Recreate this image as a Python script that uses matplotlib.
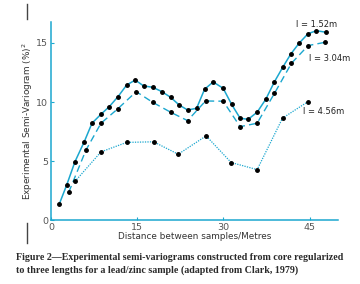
import matplotlib
matplotlib.use('Agg')
import matplotlib.pyplot as plt
from matplotlib.lines import Line2D

# Semi-variogram values
x_152 = [1.44, 2.73, 4.17, 5.79, 7.13, 8.70, 10.14, 11.65, 13.17, 14.66, 16.12,
         17.69, 19.30, 20.82, 22.31, 23.77, 25.34, 26.73, 28.23, 29.97, 31.43,
         32.92, 34.31, 35.88, 37.39, 38.90, 40.40, 41.74, 43.18, 44.75, 46.21, 47.83]
y_152 = [1.39, 3.0, 4.97, 6.66, 8.22, 8.98, 9.62, 10.46, 11.45, 11.87, 11.37,
         11.26, 10.89, 10.41, 9.76, 9.34, 9.48, 11.09, 11.71, 11.17, 9.82,
         8.64, 8.55, 9.15, 10.25, 11.73, 13.0, 14.07, 14.98, 15.79, 16.04, 15.91]

x_304 = [3.08, 6.09, 8.70, 11.65, 14.83, 17.69, 20.82, 23.77, 26.9, 29.97,
         32.92, 35.88, 38.9, 41.86, 44.75, 47.7]
y_304 = [2.38, 5.96, 8.22, 9.45, 10.89, 9.99, 9.15, 8.44, 10.1, 10.08,
         7.93, 8.22, 10.75, 13.29, 14.78, 15.06]

x_456 = [4.17, 8.70, 13.17, 17.86, 22.14, 27.0, 31.36, 35.88, 40.3, 44.75]
y_456 = [3.3, 5.8, 6.6, 6.65, 5.6, 7.15, 4.9, 4.3, 8.65, 10.05]

xticks = [0, 15, 30, 45]
yticks = [0, 5, 10, 15]

cyan = '#1ba7cf'
grey = '#555555'

fig = plt.figure(figsize=(3.6, 2.84), dpi=100)
ax = fig.add_axes([0.1417, 0.2236, 0.7963, 0.7])

ax.plot(x_152, y_152, color=cyan, lw=1.1, marker='o', ms=2.5, mfc='black', mec='black')
ax.plot(x_304, y_304, color=cyan, lw=1.0, ls=(0, (5, 3)), marker='o', ms=2.5, mfc='black', mec='black')
ax.plot(x_456, y_456, color=cyan, lw=0.9, ls=(0, (1, 1)), marker='o', ms=2.5, mfc='black', mec='black')

ax.text(42.6, 16.55, 'l = 1.52m', fontsize=6, color='#222222', va='center')
ax.text(44.9, 13.7, 'l = 3.04m', fontsize=6, color='#222222', va='center')
ax.text(43.9, 9.25, 'l = 4.56m', fontsize=6, color='#222222', va='center')

ax.set_xlim(0, 49.9)
ax.set_ylim(0, 16.8)
ax.set_xticks(xticks)
ax.set_yticks(yticks)
ax.tick_params(direction='in', length=2.5, width=0.8, color=cyan, labelsize=6.8,
               labelcolor=grey, pad=2)
for s in ['top', 'right']:
    ax.spines[s].set_visible(False)
for s in ['left', 'bottom']:
    ax.spines[s].set_color(cyan)
    ax.spines[s].set_linewidth(1.1)

ax.set_xlabel('Distance between samples/Metres', fontsize=6.4, color='#333333', labelpad=0)
ax.set_ylabel('Experimental Semi-Variogram (%)$^2$', fontsize=6.4, color='#333333', labelpad=1)

# page margin bars
fig.add_artist(Line2D([27 / 360, 27 / 360], [1 - 4 / 284, 1 - 19 / 284], color='#444444', lw=1))
fig.add_artist(Line2D([27 / 360, 27 / 360], [1 - 223 / 284, 1 - 243 / 284], color='#444444', lw=1))

fig.text(16 / 360, 1 - 258 / 284,
         'Figure 2\u2014Experimental semi-variograms constructed from core regularized',
         fontsize=7.2, family='Liberation Serif', weight='bold', color='#2a2a2a', va='center')
fig.text(16 / 360, 1 - 270 / 284,
         'to three lengths for a lead/zinc sample (adapted from Clark, 1979)',
         fontsize=7.2, family='Liberation Serif', weight='bold', color='#2a2a2a', va='center')

fig.savefig('out.png', dpi=100)
